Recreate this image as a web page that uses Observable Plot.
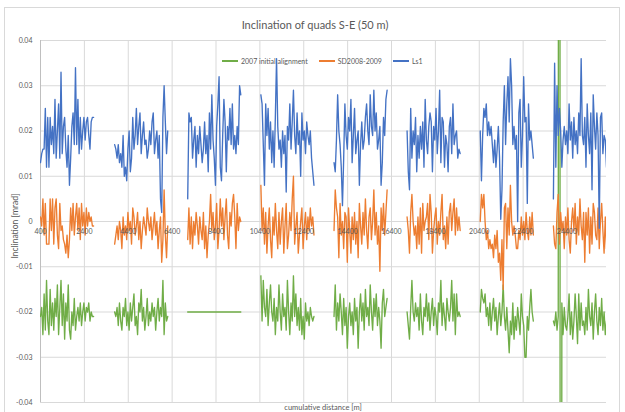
<!DOCTYPE html>
<html><head><meta charset="utf-8">
<script src="https://cdn.jsdelivr.net/npm/d3@7"></script>
<script src="https://cdn.jsdelivr.net/npm/@observablehq/plot@0.6"></script>
<style>
body{margin:0;background:#fff;}
#wrap{position:relative;width:625px;height:412px;overflow:hidden;font-family:Lato,"Open Sans",sans-serif;color:#595959;background:#fff;}
#frame{position:absolute;left:4px;top:7px;width:616px;height:420px;border:1px solid #d9d9d9;box-sizing:border-box;}
#chart{position:absolute;left:0;top:0;}
#title{position:absolute;top:18px;left:315px;transform:translateX(-50%);font-size:11px;white-space:nowrap;}
#ylab{position:absolute;left:15px;top:226px;transform:translate(-50%,-50%) rotate(-90deg);font-size:8.5px;white-space:nowrap;}
#xlab{position:absolute;left:323px;top:407px;transform:translate(-50%,-50%);font-size:7.5px;white-space:nowrap;}
#legend{position:absolute;left:222px;top:57px;display:flex;align-items:center;font-size:7px;white-space:nowrap;}
.item{display:flex;align-items:center;margin-right:11px;}
.sw{display:inline-block;width:16px;height:1.5px;margin-right:3px;}
</style>
</head><body>
<div id="wrap">
  <div id="frame"></div>
  <div id="chart"></div>
  <div id="title">Inclination of quads S-E (50 m)</div>
  <div id="ylab">Inclination [mrad]</div>
  <div id="xlab">cumulative distance [m]</div>
  <div id="legend"></div>
</div>
<script>
// ---- data ----
const seriesNames = ["2007 initial alignment", "SD2008-2009", "Ls1"];
const seriesColors = ["#70ad47", "#ed7d31", "#4472c4"];
const segmentStart = [400, 3780, 7110, 10445, 13780, 17110, 20445, 23780]; // m
const stepM = 55; // m between quads
const xTicks = [400, 2400, 4400, 6400, 8400, 10400, 12400, 14400, 16400, 18400, 20400, 22400, 24400];
const xTickLabels = ["400", "2400", "4400", "6400", "8400", "10400", "12400", "14400", "16400", "18400", "20400", "22400", "24400"];
const yTicks = [0.04, 0.03, 0.02, 0.01, 0, -0.01, -0.02, -0.03, -0.04];
const yTickLabels = ["0.04", "0.03", "0.02", "0.01", "0", "-0.01", "-0.02", "-0.03", "-0.04"];

const ls1 = [
 [.013,.015,.016,.016,.025,.012,.023,.012,.023,.017,.021,.015,.027,.014,.020,.026,.014,.033,.015,.021,.023,.016,.012,.019,.008,.014,.021,.024,.017,.034,.017,.027,.015,.023,.016,.020,.023,.018,.022,.023,.019,.016,.022,.023,.023],
 [.017,.016,.014,.017,.013,.015,.012,.019,.010,.012,.009,.016,.020,.011,.014,.023,.016,.019,.025,.017,.021,.024,.015,.019,.022,.017,.018,.014,.016,.020,.017,.022,.024,.015,.018,.020,.014,.019,.005,.002,.023,.030,.022,.015,.020],
 [.005,.024,.022,.023,.014,.018,.021,.012,.019,.015,.021,.017,.013,.016,.022,.015,.019,.011,.024,.016,.028,.018,.014,.008,.021,.026,.032,.012,.009,.019,.027,.022,.011,.021,.018,.025,.017,.026,.016,.019,.015,.021,.017,.030,.028],
 [.028,.026,.017,.008,.026,.019,.025,.016,.022,.013,.020,.012,.023,.036,.021,.016,.018,.012,.020,.015,.019,.0065,.021,.018,.026,.016,.022,.029,.019,.015,.024,.017,.020,.010,.024,.018,.020,.015,.022,.019,.017,.020,.014,.011,.008],
 [.013,.011,.018,.028,.020,.017,.012,.0035,.014,.026,.019,.016,.023,.020,.027,.013,.019,.025,.015,.018,.020,.008,.017,.022,.016,.018,.023,.026,.020,.017,.028,.021,.019,.029,.020,.024,.016,.018,.021,.008,.013,.023,.019,.027,.029],
 [.020,.011,.007,.025,.014,.020,.017,.023,.011,.019,.014,.021,.016,.022,.012,.027,.018,.015,.021,.024,.022,.011,.021,.018,.025,.015,.020,.029,.013,.023,.022,.012,.019,.017,.011,.021,.023,.015,.026,.017,.019,.020,.014,.016,.015],
 [.020,.009,.019,.025,.023,.026,.019,.022,.019,.021,.017,.013,.018,.012,.016,.021,.014,.0005,.007,.022,.030,.017,.026,.032,.022,.036,.030,.017,.021,.016,.019,.000,.024,.027,.012,.019,.032,.022,.023,.004,.026,.018,.020,.017,.014],
 [.005,.035,.012,.030,.019,.025,.020,.012,.018,.021,.017,.020,.015,.026,.018,.022,.014,.023,.017,.020,.015,.024,.019,.036,.019,.017,.023,.012,.026,.019,.015,.024,.007,.028,.021,.016,.024,.019,-.0015,.023,.024,.015,.019,.018,.012]
];

const sd2008 = [
 [.001,-.001,.005,-.003,.004,-.005,-.005,-.005,.005,-.002,.005,-.005,.003,.005,-.003,-.006,.004,-.002,-.001,-.004,-.005,-.007,-.003,-.008,-.004,.003,-.002,.004,-.003,.001,.004,-.002,.003,-.004,.004,-.001,.002,-.003,.003,-.001,.002,.000,.001,-.001,-.001],
 [-.005,-.003,-.001,-.004,.000,-.002,-.006,.001,-.003,-.001,-.004,.002,-.002,.000,-.005,.003,.001,-.003,-.001,.002,-.004,.000,-.006,-.002,.001,-.001,-.003,.003,.000,-.002,.001,-.004,-.001,.002,-.003,.000,-.006,-.002,.001,-.009,-.004,.007,-.003,-.008,-.001],
 [-.004,.003,-.005,.001,-.006,.000,-.003,.002,-.001,-.005,.001,-.002,-.004,.002,-.006,-.001,-.008,-.003,.000,.006,-.002,.002,-.004,-.001,.004,-.006,-.002,.005,-.001,.003,-.004,.001,.005,-.003,-.006,.002,-.001,.004,.006,.001,-.006,.004,-.002,.001,.000],
 [.008,-.002,.003,-.005,.002,-.007,-.001,.003,-.004,-.008,.001,-.003,.004,-.002,-.006,.002,-.005,.000,.003,-.007,-.001,.004,-.006,-.003,.002,-.002,.005,.010,-.005,-.001,.002,-.007,-.003,.000,.003,-.006,-.001,.002,-.004,.001,-.002,.003,-.001,.001,-.003],
 [-.002,.007,.003,.001,-.008,.004,-.003,.000,-.006,.002,.001,-.009,.003,-.002,-.007,.001,-.004,.002,-.005,.000,-.008,.004,-.001,-.005,.002,-.003,.005,-.002,-.006,.001,.003,-.004,.000,.007,-.003,.002,-.005,-.001,-.011,.003,-.002,.004,-.003,.002,.007],
 [.001,-.002,-.007,.002,.006,.000,-.003,-.001,-.006,.001,-.005,.003,-.007,.004,-.002,.000,.001,.004,-.004,.006,.002,-.007,-.002,.001,.003,-.005,.000,-.003,.002,.006,-.004,-.001,-.006,.001,-.005,.002,.004,-.002,.002,.005,-.003,.003,-.002,.001,-.002],
 [.000,.006,.003,.006,.000,-.004,-.002,-.006,-.004,-.006,-.005,-.008,-.003,-.006,-.002,-.009,-.007,-.013,-.004,-.015,.003,.004,-.006,.003,-.003,.008,.000,-.003,-.001,-.003,-.006,-.006,-.002,-.004,.001,-.003,.000,-.004,.002,-.002,-.004,.001,-.003,.002,-.003],
 [-.001,-.005,-.006,.002,.006,-.005,.002,-.002,.000,-.006,.001,-.003,.003,-.004,-.007,.000,.003,-.002,.004,-.005,.001,-.003,.005,-.001,-.004,.002,-.009,.002,-.003,.003,-.007,.001,-.005,.004,.002,-.003,-.004,.003,-.006,.000,.004,-.002,-.007,.001,-.006]
];

const init2007 = [
 [-.021,-.019,-.025,-.016,-.024,-.013,-.022,-.025,-.015,-.023,-.018,-.024,-.017,-.021,-.014,-.025,-.019,-.013,-.023,-.016,-.026,-.018,-.022,-.014,-.024,-.026,-.020,-.023,-.017,-.024,-.021,-.019,-.022,-.018,-.023,-.020,-.018,-.022,-.019,-.020,-.018,-.022,-.020,-.021,-.021],
 [-.020,-.021,-.019,-.023,-.018,-.022,-.024,-.019,-.021,-.017,-.023,-.020,-.024,-.018,-.022,-.019,-.016,-.023,-.021,-.025,-.018,-.020,-.015,-.022,-.019,-.024,-.021,-.017,-.023,-.020,-.022,-.018,-.021,-.019,-.024,-.020,-.017,-.022,-.019,-.021,-.013,-.025,-.018,-.022,-.021],
 [-.020,-.020,-.020,-.020,-.020,-.020,-.020,-.020,-.020,-.020,-.020,-.020,-.020,-.020,-.020,-.020,-.020,-.020,-.020,-.020,-.020,-.020,-.020,-.020,-.020,-.020,-.020,-.020,-.020,-.020,-.020,-.020,-.020,-.020,-.020,-.020,-.020,-.020,-.020,-.020,-.020,-.020,-.020,-.020,-.020],
 [-.012,-.022,-.013,-.019,-.021,-.015,-.023,-.018,-.014,-.020,-.022,-.017,-.025,-.019,-.022,-.014,-.020,-.024,-.016,-.021,-.019,-.024,-.013,-.020,-.025,-.018,-.022,-.012,-.021,-.016,-.023,-.019,-.024,-.017,-.025,-.021,-.026,-.018,-.022,-.020,-.023,-.019,-.021,-.022,-.021],
 [-.021,-.014,-.024,-.018,-.022,-.016,-.020,-.025,-.017,-.023,-.019,-.028,-.021,-.018,-.023,-.020,-.025,-.017,-.022,-.019,-.028,-.020,-.016,-.022,-.018,-.024,-.015,-.021,-.019,-.023,-.014,-.020,-.024,-.017,-.021,-.016,-.023,-.019,-.022,-.028,-.018,-.015,-.021,-.019,-.017],
 [-.020,-.023,-.026,-.019,-.013,-.020,-.022,-.018,-.021,-.019,-.024,-.016,-.022,-.025,-.019,-.021,-.016,-.022,-.018,-.024,-.020,-.017,-.023,-.019,-.021,-.025,-.018,-.020,-.013,-.023,-.018,-.021,-.024,-.017,-.020,-.022,-.019,-.013,-.022,-.016,-.025,-.016,-.021,-.020,-.021],
 [-.020,-.015,-.017,-.018,-.016,-.021,-.019,-.023,-.018,-.024,-.020,-.017,-.022,-.019,-.025,-.021,-.018,-.023,-.020,-.014,-.021,-.024,-.019,-.024,-.029,-.022,-.025,-.018,-.026,-.021,-.024,-.019,-.022,-.025,-.016,-.021,-.023,-.030,-.030,-.021,-.024,-.019,-.015,-.020,-.022],
 [-.022,-.023,-.020,-.024,-.021,.5,-.5,-.018,-.025,-.019,-.023,-.024,-.021,-.016,-.025,-.020,-.026,-.022,-.016,-.021,-.027,-.016,-.024,-.018,-.023,-.022,-.025,-.019,-.024,-.015,-.021,-.023,-.018,-.026,-.020,-.016,-.022,-.025,-.019,-.023,-.017,-.024,-.020,-.025,-.022]
];

// ---- build table ----
const toRows = (series) => series.flatMap((seg, s) =>
  seg.map((v, i) => ({x: segmentStart[s] + i * stepM, y: v, seg: s})));
const tables = [toRows(init2007), toRows(sd2008), toRows(ls1)];

const chart = Plot.plot({
  width: 625, height: 412,
  marginLeft: 40, marginRight: 19, marginTop: 40, marginBottom: 10,
  x: {domain: [400, 26200], axis: null},
  y: {domain: [-0.04, 0.04], axis: null},
  style: {background: "transparent", fontFamily: "Lato, 'Open Sans', sans-serif", fontSize: "7px", color: "#595959", overflow: "visible"},
  marks: [
    Plot.ruleY(yTicks, {stroke: "#d9d9d9", strokeWidth: 1}),
    Plot.ruleX(xTicks.slice(1), {stroke: "#d9d9d9", strokeWidth: 1}),
    Plot.ruleX([400], {stroke: "#bfbfbf", strokeWidth: 1}),
    ...tables.map((t, k) => Plot.line(t, {x: "x", y: "y", z: "seg", stroke: seriesColors[k], strokeWidth: 1.35, clip: true})),
    Plot.text(yTicks, {x: () => 400, y: d => d, text: (d, i) => yTickLabels[i], dx: -8, textAnchor: "end", fill: "#595959"}),
    Plot.text(xTicks, {x: d => d, y: () => 0, text: (d, i) => xTickLabels[i], dy: 10, fill: "#595959"})
  ]
});
document.getElementById("chart").appendChild(chart);

const legend = document.getElementById("legend");
seriesNames.forEach((n, k) => {
  const it = document.createElement("div");
  it.className = "item";
  const sw = document.createElement("span");
  sw.className = "sw";
  sw.style.background = seriesColors[k];
  const tx = document.createElement("span");
  tx.textContent = n;
  it.appendChild(sw); it.appendChild(tx);
  legend.appendChild(it);
});
</script>
</body></html>
